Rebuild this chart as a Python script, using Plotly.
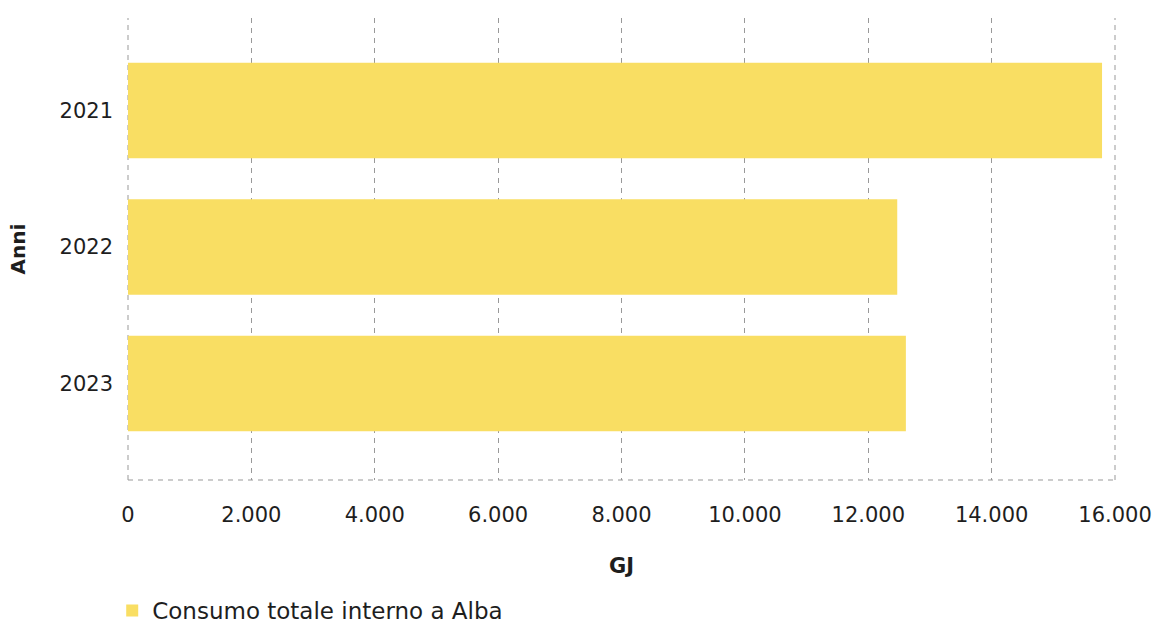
import plotly.graph_objects as go

# Annual internal energy consumption (GJ)
anni = ["2021", "2022", "2023"]
consumo_gj = [15790, 12470, 12610]
serie_nome = "Consumo totale interno a Alba"

x_ticks = [0, 2000, 4000, 6000, 8000, 10000, 12000, 14000, 16000]

BAR_COLOR = "#F9DE63"
GRID_COLOR = "#999999"
TEXT_COLOR = "#1e1e1e"
FONT = "DejaVu Sans, Liberation Sans, sans-serif"
DASH = "5px,5px"

fig = go.Figure(
    go.Bar(
        x=consumo_gj,
        y=anni,
        orientation="h",
        name=serie_nome,
        marker=dict(color=BAR_COLOR, line=dict(width=0)),
        showlegend=True,
    )
)

fig.update_layout(
    width=1155,
    height=623,
    margin=dict(l=128, r=40, t=18, b=143),
    paper_bgcolor="white",
    plot_bgcolor="white",
    separators=",.",
    bargap=0.30,
    font=dict(family=FONT, color=TEXT_COLOR, size=21),
    showlegend=True,
    legend=dict(
        orientation="h",
        x=-0.016,
        xanchor="left",
        yref="container",
        y=0.02,
        yanchor="middle",
        font=dict(size=23, color=TEXT_COLOR),
    ),
    xaxis=dict(
        range=[0, 16000],
        tickvals=x_ticks,
        tickformat=",.0f",
        showgrid=True,
        gridcolor=GRID_COLOR,
        gridwidth=1,
        griddash=DASH,
        zeroline=False,
        showline=False,
        ticks="",
        ticklabelstandoff=20,
        tickfont=dict(size=21),
        title=dict(text="<b>GJ</b>", font=dict(size=21), standoff=32),
        automargin=False,
        fixedrange=True,
    ),
    yaxis=dict(
        categoryorder="array",
        categoryarray=anni[::-1],
        range=[-0.707, 2.678],
        showgrid=False,
        zeroline=False,
        showline=False,
        ticks="",
        ticklabelstandoff=14,
        tickfont=dict(size=21),
        title=dict(text="<b>Anni</b>", font=dict(size=20), standoff=28),
        automargin=False,
        fixedrange=True,
    ),
)

# Dashed frame lines: bottom baseline plus the grid lines at both ends of the x range
edge_lines = [
    dict(x0=0, x1=1, y0=0, y1=0),
    dict(x0=0, x1=0, y0=0, y1=1),
    dict(x0=1, x1=1, y0=0, y1=1),
]
for ln in edge_lines:
    fig.add_shape(
        type="line",
        xref="x domain",
        yref="y domain",
        line=dict(color=GRID_COLOR, width=1, dash=DASH),
        layer="below",
        **ln,
    )

fig.write_html("out.html")
